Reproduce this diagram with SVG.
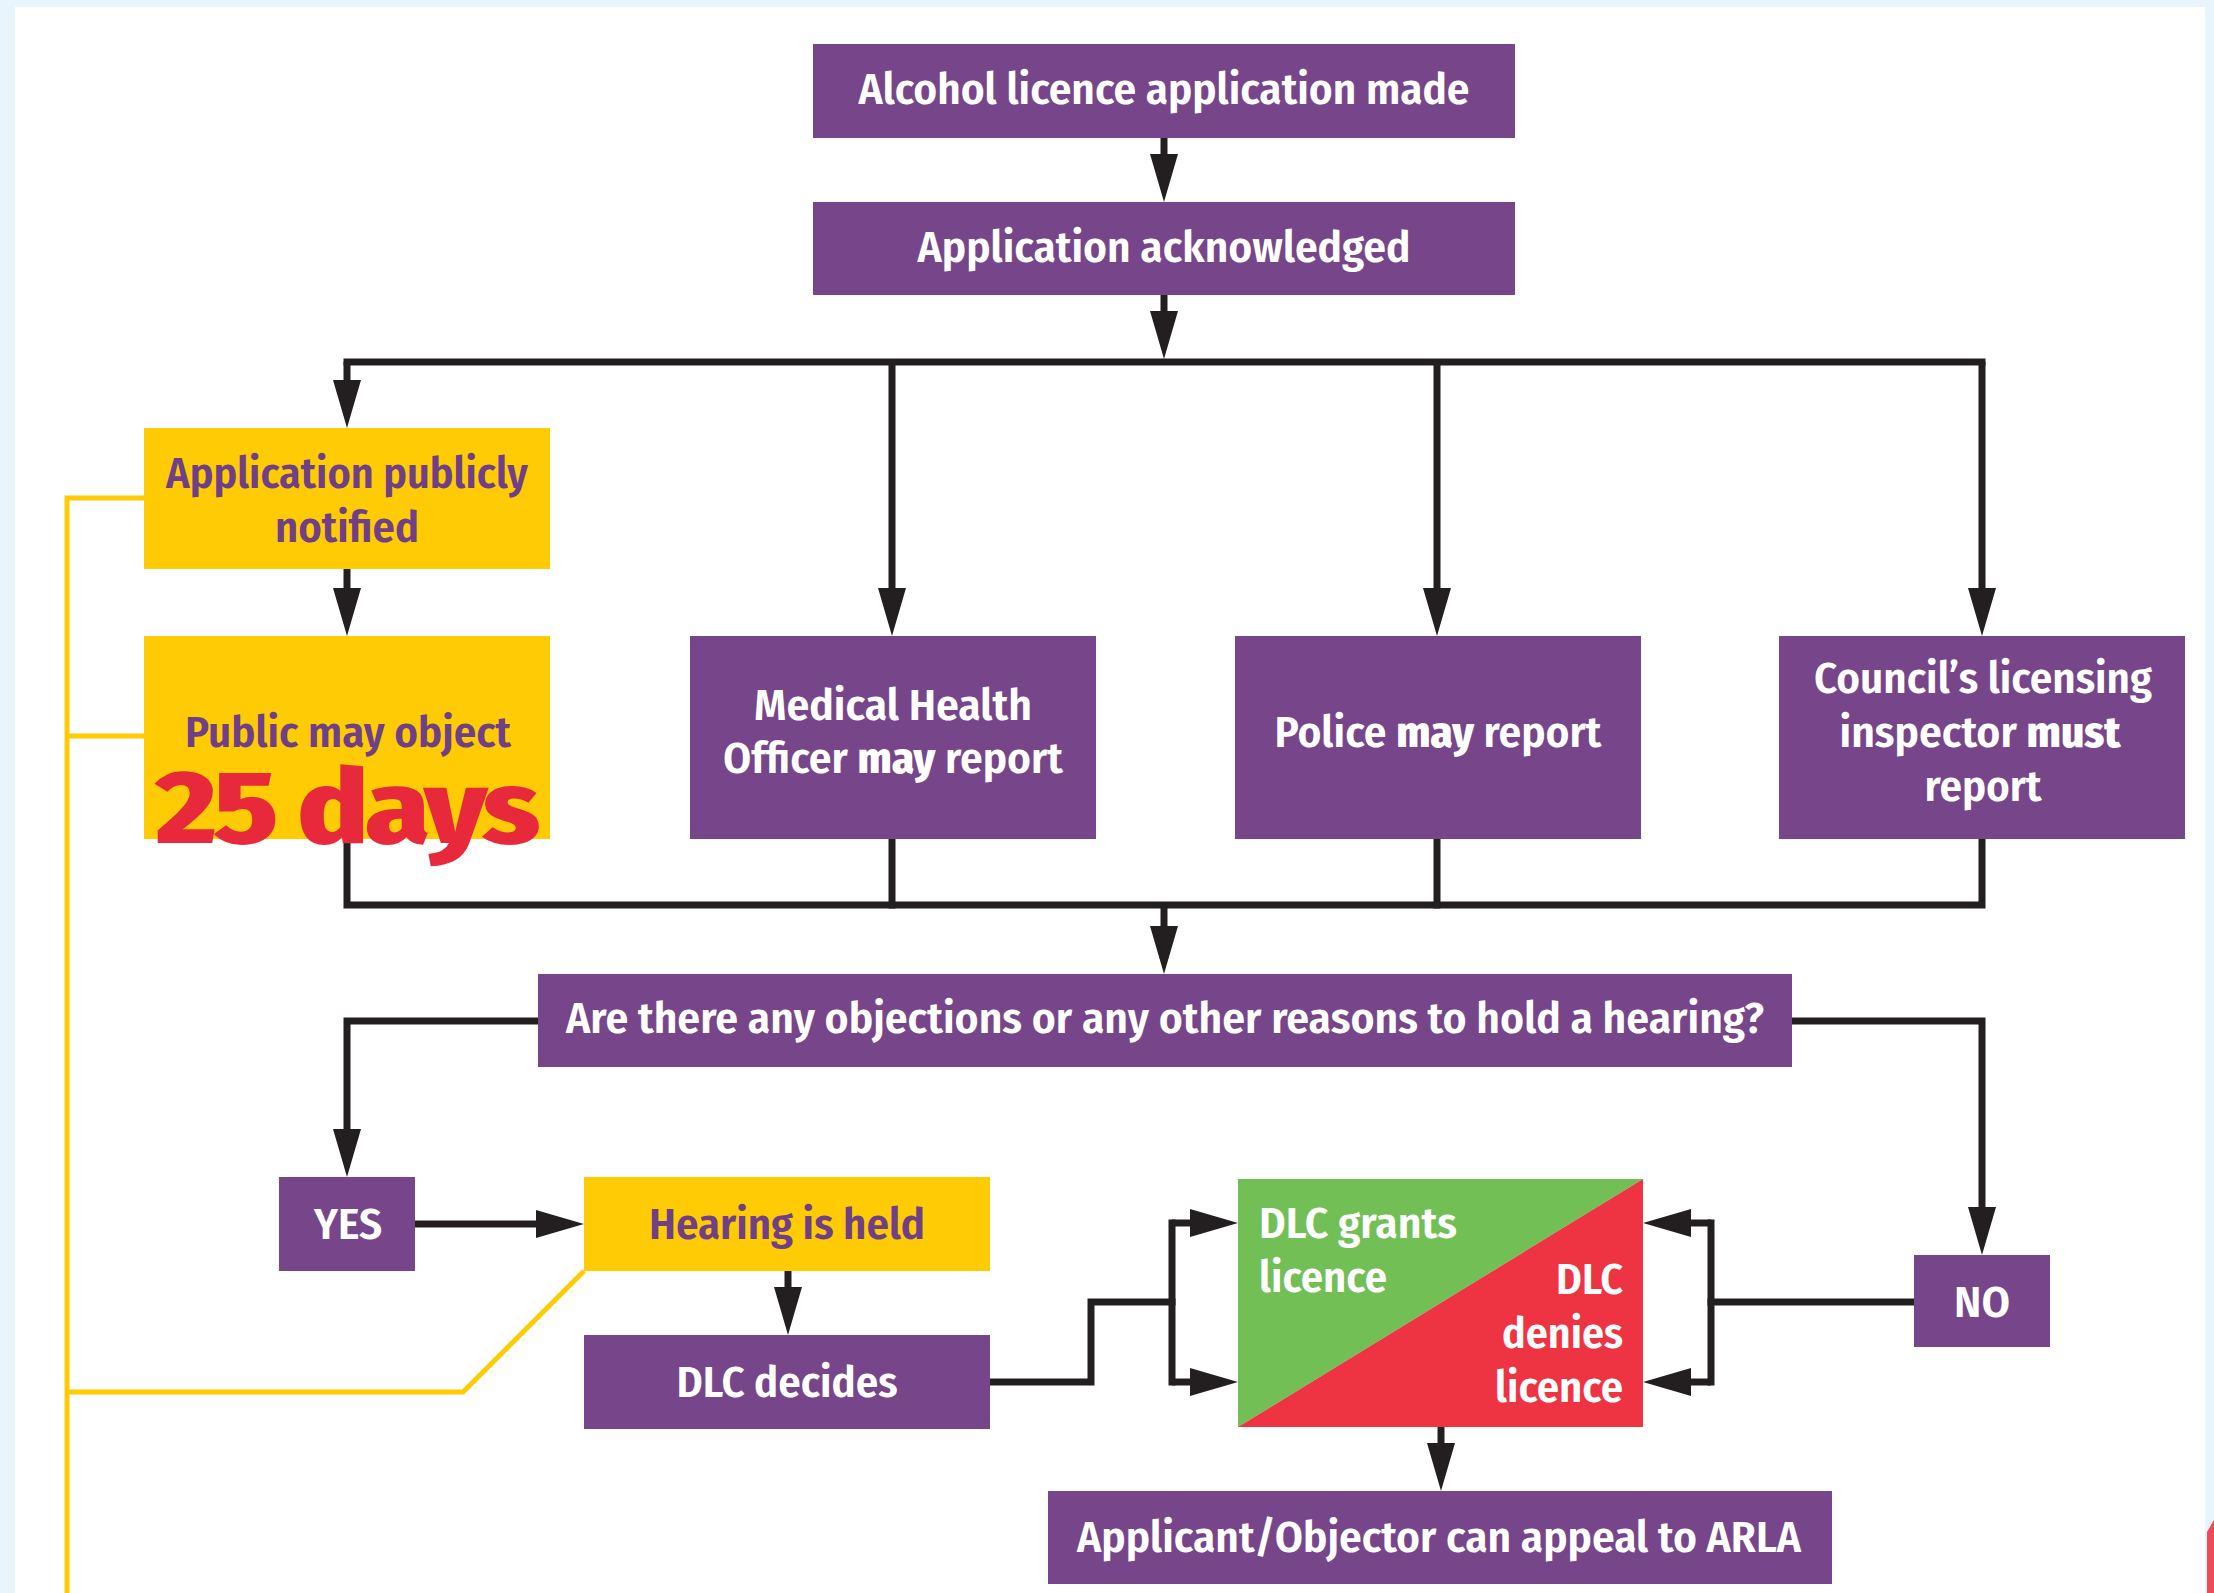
<svg xmlns="http://www.w3.org/2000/svg" xmlns:xlink="http://www.w3.org/1999/xlink" width="2214" height="1593" viewBox="0 0 2214 1593">
<style>
.p{fill:#77458a}
.y{fill:#ffcb05}
.t{font-family:"Fira Sans Condensed","Roboto Condensed","Liberation Sans Narrow","Open Sans","Liberation Sans",sans-serif;font-weight:600;font-size:44px;fill:#ffffff;text-anchor:middle}
.ty{fill:#6f3f87}
.b{font-weight:800}
.ln{stroke:#231f20;stroke-width:7;fill:none;stroke-linecap:square;stroke-linejoin:miter}
.lna{stroke:#231f20;stroke-width:7;fill:none;stroke-linecap:butt;marker-end:url(#ah)}
.yl{stroke:#ffcb05;stroke-width:5;fill:none}
</style>
<defs>
<marker id="ah" viewBox="0 0 48 28" refX="4" refY="14" markerWidth="48" markerHeight="28" markerUnits="userSpaceOnUse" orient="auto">
<path d="M0,0 L48,14 L0,28 Z" fill="#231f20"/>
</marker>
</defs>
<rect x="0" y="0" width="2214" height="1593" fill="#e8f5fc"/>
<rect x="15" y="7" width="2190" height="1586" fill="#ffffff"/>
<path d="M2207,1532 L2214,1520 L2214,1593 L2207,1593 Z" fill="#ee4a5a"/>

<g id="yellow-lines">
<path class="yl" d="M67,1593 V498 H144"/>
<path class="yl" d="M67,736 H144"/>
<path class="yl" d="M67,1392 H463 L584,1271"/>
</g>

<g id="connectors">
<path class="lna" d="M1164,138 V158"/>
<path class="lna" d="M1164,295 V315"/>
<path class="ln" d="M347,362 H1982"/>
<path class="lna" d="M347,362 V384"/>
<path class="lna" d="M892,362 V592"/>
<path class="lna" d="M1437,362 V592"/>
<path class="lna" d="M1982,362 V592"/>
<path class="lna" d="M347,569 V592"/>
<path class="ln" d="M347,839 V905 H1982 V839"/>
<path class="ln" d="M892,839 V905"/>
<path class="ln" d="M1437,839 V905"/>
<path class="lna" d="M1164,905 V930"/>
<path class="lna" d="M538,1021 H347 V1133"/>
<path class="lna" d="M1792,1021 H1982 V1211"/>
<path class="lna" d="M415,1224 H540"/>
<path class="lna" d="M788,1271 V1291"/>
<path class="ln" d="M990,1382 H1091 V1302 H1172"/>
<path class="ln" d="M1172,1223 V1382"/>
<path class="lna" d="M1172,1223 H1194"/>
<path class="lna" d="M1172,1382 H1194"/>
<path class="ln" d="M1914,1302 H1711"/>
<path class="ln" d="M1711,1223 V1382"/>
<path class="lna" d="M1711,1223 H1687"/>
<path class="lna" d="M1711,1382 H1687"/>
<path class="lna" d="M1441,1427 V1447"/>
</g>

<g id="n-made">
<rect class="p" x="813" y="44" width="702" height="94"/>
<text class="t" x="1164" y="104" textLength="611" lengthAdjust="spacingAndGlyphs">Alcohol licence application made</text>
</g>
<g id="n-ack">
<rect class="p" x="813" y="202" width="702" height="93"/>
<text class="t" x="1164" y="262" textLength="493" lengthAdjust="spacingAndGlyphs">Application acknowledged</text>
</g>
<g id="n-notified">
<rect class="y" x="144" y="428" width="406" height="141"/>
<text class="t ty" x="347" y="488" textLength="362" lengthAdjust="spacingAndGlyphs">Application publicly</text>
<text class="t ty" x="347" y="542" textLength="144" lengthAdjust="spacingAndGlyphs">notified</text>
</g>
<g id="n-object">
<rect class="y" x="144" y="636" width="406" height="203"/>
<text class="t ty" x="348" y="747" textLength="326" lengthAdjust="spacingAndGlyphs">Public may object</text>
<text class="t" x="346" y="843" style="font-size:104px;font-weight:800;fill:#e8293b;letter-spacing:-3px" textLength="381" lengthAdjust="spacingAndGlyphs">25 days</text>
</g>
<g id="n-mho">
<rect class="p" x="690" y="636" width="406" height="203"/>
<text class="t" x="893" y="720" textLength="278" lengthAdjust="spacingAndGlyphs">Medical Health</text>
<text class="t" x="893" y="773" textLength="340" lengthAdjust="spacingAndGlyphs">Officer <tspan class="b">may</tspan> report</text>
</g>
<g id="n-police">
<rect class="p" x="1235" y="636" width="406" height="203"/>
<text class="t" x="1438" y="747" textLength="327" lengthAdjust="spacingAndGlyphs">Police <tspan class="b">may</tspan> report</text>
</g>
<g id="n-council">
<rect class="p" x="1779" y="636" width="406" height="203"/>
<text class="t" x="1983" y="693" textLength="338" lengthAdjust="spacingAndGlyphs">Council’s licensing</text>
<text class="t" x="1980" y="747" textLength="281" lengthAdjust="spacingAndGlyphs">inspector <tspan class="b">must</tspan></text>
<text class="t" x="1983" y="801" textLength="117" lengthAdjust="spacingAndGlyphs">report</text>
</g>
<g id="n-question">
<rect class="p" x="538" y="974" width="1254" height="93"/>
<text class="t" x="1165" y="1033" textLength="1198" lengthAdjust="spacingAndGlyphs">Are there any objections or any other reasons to hold a hearing?</text>
</g>
<g id="n-yes">
<rect class="p" x="279" y="1177" width="136" height="94"/>
<text class="t" x="348" y="1239" textLength="68" lengthAdjust="spacingAndGlyphs">YES</text>
</g>
<g id="n-hearing">
<rect class="y" x="584" y="1177" width="406" height="94"/>
<text class="t ty" x="787" y="1239" textLength="276" lengthAdjust="spacingAndGlyphs">Hearing is held</text>
</g>
<g id="n-decides">
<rect class="p" x="584" y="1335" width="406" height="94"/>
<text class="t" x="787" y="1397" textLength="221" lengthAdjust="spacingAndGlyphs">DLC decides</text>
</g>
<g id="n-outcome">
<polygon points="1238,1179 1643,1179 1238,1427" fill="#72bf55"/>
<polygon points="1643,1179 1643,1427 1238,1427" fill="#ee3342"/>
<text class="t" x="1259" y="1238" style="text-anchor:start" textLength="198" lengthAdjust="spacingAndGlyphs">DLC grants</text>
<text class="t" x="1259" y="1292" style="text-anchor:start" textLength="128" lengthAdjust="spacingAndGlyphs">licence</text>
<text class="t" x="1623" y="1294" style="text-anchor:end" textLength="67" lengthAdjust="spacingAndGlyphs">DLC</text>
<text class="t" x="1623" y="1348" style="text-anchor:end" textLength="121" lengthAdjust="spacingAndGlyphs">denies</text>
<text class="t" x="1623" y="1402" style="text-anchor:end" textLength="128" lengthAdjust="spacingAndGlyphs">licence</text>
</g>
<g id="n-no">
<rect class="p" x="1914" y="1255" width="136" height="92"/>
<text class="t" x="1982" y="1317" textLength="56" lengthAdjust="spacingAndGlyphs">NO</text>
</g>
<g id="n-appeal">
<rect class="p" x="1048" y="1491" width="784" height="93"/>
<text class="t" x="1439" y="1552" textLength="724" lengthAdjust="spacingAndGlyphs">Applicant/Objector can appeal to ARLA</text>
</g>
</svg>
